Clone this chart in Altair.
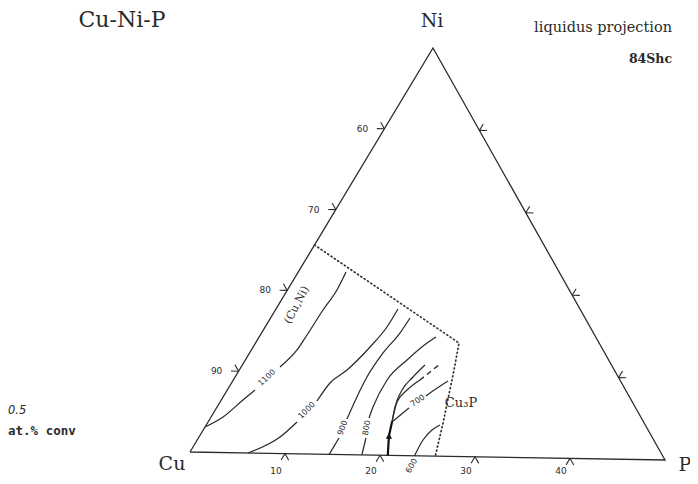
import altair as alt
import pandas as pd

# ---------------- data (compositions in at.%: P, Ni) ----------------
CORNER_NAMES = ["Cu", "P", "Ni"]
CORNER_P = [0, 50, 0]
CORNER_NI = [0, 0, 50]

TICKS = [10, 20, 30, 40]
LEFT_LABELS = ["90", "80", "70", "60"]     # Cu at.% along Cu-Ni side
BASE_LABELS = ["10", "20", "30", "40"]     # P at.% along Cu-P side

# liquidus isotherms, broken where the inline labels sit
ISO_1100_A_P = [0.0, 1.25, 2.26, 2.89]
ISO_1100_A_NI = [3.1, 4.36, 6.48, 7.73]
ISO_1100_B_P = [4.05, 4.76, 4.86, 4.96, 5.16, 4.97]
ISO_1100_B_NI = [10.6, 12.72, 14.58, 17.67, 20.15, 22.38]

ISO_1000_A_P = [6.1, 8.44, 9.27]
ISO_1000_A_NI = [0.0, 2.02, 3.9]
ISO_1000_B_P = [10.04, 10.26, 11.22, 12.18, 12.69, 12.71]
ISO_1000_B_NI = [6.51, 8.74, 10.37, 13.24, 15.72, 17.95]

ISO_900_A_P = [14.65, 14.65]
ISO_900_A_NI = [0.0, 2.02]
ISO_900_B_P = [14.29, 13.74, 13.91, 14.42, 14.53]
ISO_900_B_NI = [4.37, 9.55, 12.53, 15.01, 16.87]

ISO_800_A_P = [18.09, 17.46]
ISO_800_A_NI = [0.0, 2.08]
ISO_800_B_P = [16.52, 16.25, 16.02, 16.85, 17.87, 18.43]
ISO_800_B_NI = [4.54, 5.89, 9.23, 11.72, 13.84, 14.60]

ISO_700_A_P = [19.17, 20.06]
ISO_700_A_NI = [4.09, 5.84]
ISO_700_B_P = [21.08, 21.31, 22.44]
ISO_700_B_NI = [7.35, 7.72, 9.23]

ISO_600_P = [23.63, 23.53, 23.84, 24.36]
ISO_600_NI = [0.0, 1.95, 3.19, 3.82]

# monovariant valleys
VALLEY_MAIN_P = [20.82, 19.73, 19.17]
VALLEY_MAIN_NI = [0.0, 2.37, 4.09]
VALLEY_A_P = [19.17, 18.54, 18.21, 18.54, 19.04]
VALLEY_A_NI = [4.09, 5.94, 8.03, 9.65, 11.14]
VALLEY_B_P = [19.17, 18.44, 18.73, 19.45]
VALLEY_B_NI = [4.09, 6.55, 8.04, 9.30]
VALLEY_B_DASH_P = [19.45, 20.0, 20.54]
VALLEY_B_DASH_NI = [9.30, 10.30, 11.30]

ARROW_P = [19.73]
ARROW_NI = [2.37]

# limit of the investigated region (dotted)
LIMIT_P = [0.0, 21.20, 22.37, 24.55, 25.82]
LIMIT_NI = [25.62, 13.91, 10.59, 4.08, 0.0]

# inline labels
LABEL_TEXT = ["1100", "1000", "900", "800", "700", "600", "(Cu,Ni)", "Cu\u2083P"]
LABEL_P = [3.39, 9.6, 14.44, 16.94, 20.56, 24.01, 1.94, 25.17]
LABEL_NI = [9.23, 5.3, 3.26, 3.31, 6.72, -1.26, 18.23, 6.56]

# ---------------- geometry of the (slightly skewed) drawing ----------------
# plot pixels: x = 182 + 9.5 P + 4.86 Ni ; height above bottom = 24 - 0.16 P + 8.08 Ni
XS = alt.Scale(domain=[0, 682], nice=False, zero=False)
YS = alt.Scale(domain=[0, 468], nice=False, zero=False)
XEXPR = "182 + 9.5 * datum.{p} + 4.86 * datum.{n}"
YEXPR = "24 - 0.16 * datum.{p} + 8.08 * datum.{n}"
INK = "#2b2b2b"


def tern(df):
    return alt.Chart(df).transform_calculate(
        x=XEXPR.format(p="P", n="Ni"), y=YEXPR.format(p="P", n="Ni")
    )


def xy():
    return dict(
        x=alt.X("x:Q", scale=XS, axis=None),
        y=alt.Y("y:Q", scale=YS, axis=None),
    )


def lines(segs, **mk):
    rows = []
    for si, (ps, ns) in enumerate(segs):
        for i, (p, n) in enumerate(zip(ps, ns)):
            rows.append({"seg": si, "i": i, "P": p, "Ni": n})
    return tern(pd.DataFrame(rows)).mark_line(**mk).encode(
        detail="seg:N", order=alt.Order("i:Q"), **xy()
    )


layers = []

# triangle
layers.append(lines([(CORNER_P + [CORNER_P[0]], CORNER_NI + [CORNER_NI[0]])],
                    color=INK, strokeWidth=1.3))

# tick marks (short outward strokes along the grid directions)
L = 0.8
tick_rows = []
for t in TICKS:
    tick_rows.append({"P": t, "Ni": 0, "P2": t, "Ni2": -L})
    tick_rows.append({"P": t, "Ni": 0, "P2": t + L, "Ni2": -L})
    tick_rows.append({"P": 0, "Ni": t, "P2": -L, "Ni2": t})
    tick_rows.append({"P": 0, "Ni": t, "P2": -L, "Ni2": t + L})
    tick_rows.append({"P": 50 - t, "Ni": t, "P2": 50 - t + L, "Ni2": t})
    tick_rows.append({"P": 50 - t, "Ni": t, "P2": 50 - t, "Ni2": t + L})
ticks = (
    alt.Chart(pd.DataFrame(tick_rows))
    .transform_calculate(
        x=XEXPR.format(p="P", n="Ni"), y=YEXPR.format(p="P", n="Ni"),
        x2=XEXPR.format(p="P2", n="Ni2"), y2=YEXPR.format(p="P2", n="Ni2"),
    )
    .mark_rule(color=INK, strokeWidth=1.1)
    .encode(x2="x2:Q", y2="y2:Q", **xy())
)
layers.append(ticks)

# tick labels
left_df = pd.DataFrame({"P": [0] * 4, "Ni": TICKS, "t": LEFT_LABELS})
base_df = pd.DataFrame({"P": TICKS, "Ni": [0] * 4, "t": BASE_LABELS})
layers.append(tern(left_df).mark_text(font="DejaVu Sans", fontSize=9, color=INK, dx=-22)
              .encode(text="t:N", **xy()))
layers.append(tern(base_df).mark_text(font="DejaVu Sans", fontSize=9, color=INK, dx=-9)
              .encode(text="t:N", x=alt.X("x:Q", scale=XS, axis=None), y=alt.value(463)))

# isotherms
layers.append(lines([
    (ISO_1100_A_P, ISO_1100_A_NI), (ISO_1100_B_P, ISO_1100_B_NI),
    (ISO_1000_A_P, ISO_1000_A_NI), (ISO_1000_B_P, ISO_1000_B_NI),
    (ISO_900_A_P, ISO_900_A_NI), (ISO_900_B_P, ISO_900_B_NI),
    (ISO_800_A_P, ISO_800_A_NI), (ISO_800_B_P, ISO_800_B_NI),
    (ISO_700_A_P, ISO_700_A_NI), (ISO_700_B_P, ISO_700_B_NI),
    (ISO_600_P, ISO_600_NI),
    (VALLEY_A_P, VALLEY_A_NI), (VALLEY_B_P, VALLEY_B_NI),
], color=INK, strokeWidth=1.25, interpolate="monotone"))

layers.append(lines([(VALLEY_MAIN_P, VALLEY_MAIN_NI)], color="#111", strokeWidth=2.2))
layers.append(lines([(VALLEY_B_DASH_P, VALLEY_B_DASH_NI)], color=INK, strokeWidth=1.4,
                    strokeDash=[5, 4]))
layers.append(lines([(LIMIT_P, LIMIT_NI)], color="#333", strokeWidth=1.7,
                    strokeDash=[1, 3], strokeCap="round"))

layers.append(tern(pd.DataFrame({"P": ARROW_P, "Ni": ARROW_NI}))
              .mark_point(shape="triangle-up", filled=True, size=40, color="#111", opacity=1)
              .encode(**xy()))

# inline labels
ANGLES = [317, 315, 290, 280, 325, 300, 298, 0]
SIZES = [8, 8, 8, 8, 8, 8, 11, 13]
FONTS = ["DejaVu Sans"] * 6 + ["DejaVu Serif", "DejaVu Serif"]
for t, p, n, a, s, f in zip(LABEL_TEXT, LABEL_P, LABEL_NI, ANGLES, SIZES, FONTS):
    layers.append(
        tern(pd.DataFrame({"P": [p], "Ni": [n], "t": [t]}))
        .mark_text(font=f, fontSize=s, angle=a, color=INK)
        .encode(text="t:N", **xy())
    )

# corner labels
CORNER_DX = [-18, 20, -1]
CORNER_DY = [12, 5, -27]
for name, p, n, dx, dy in zip(CORNER_NAMES, CORNER_P, CORNER_NI, CORNER_DX, CORNER_DY):
    layers.append(
        tern(pd.DataFrame({"P": [p], "Ni": [n], "t": [name]}))
        .mark_text(font="DejaVu Serif", fontSize=19, color=INK, dx=dx, dy=dy)
        .encode(text="t:N", **xy())
    )


# free texts (pixel placed)
def free(text, x, y, size, align="center", weight="normal", font="DejaVu Serif", style="normal"):
    return (alt.Chart(pd.DataFrame({"t": [text]}))
            .mark_text(font=font, fontSize=size, align=align, fontWeight=weight,
                       fontStyle=style, color=INK, baseline="middle")
            .encode(text="t:N", x=alt.value(x), y=alt.value(y)))


layers.append(free("Cu-Ni-P", 114, 12, 22))
layers.append(free("liquidus projection", 664, 20, 14.5, align="right"))
layers.append(free("84Shc", 664, 51, 12.5, align="right", weight="bold"))
layers.append(free("0.5", 0, 403, 11.5, align="left", font="DejaVu Sans", style="italic"))
layers.append(free("at.% conv", 0, 423, 12.5, align="left", font="DejaVu Sans Mono", weight="bold"))

chart = (
    alt.layer(*layers)
    .properties(width=682, height=468, autosize=alt.AutoSizeParams(type="none"), padding=0,
                background="white")
    .configure_view(stroke=None)
)

chart.save("out.html", embed_options={"renderer": "svg", "actions": False})
